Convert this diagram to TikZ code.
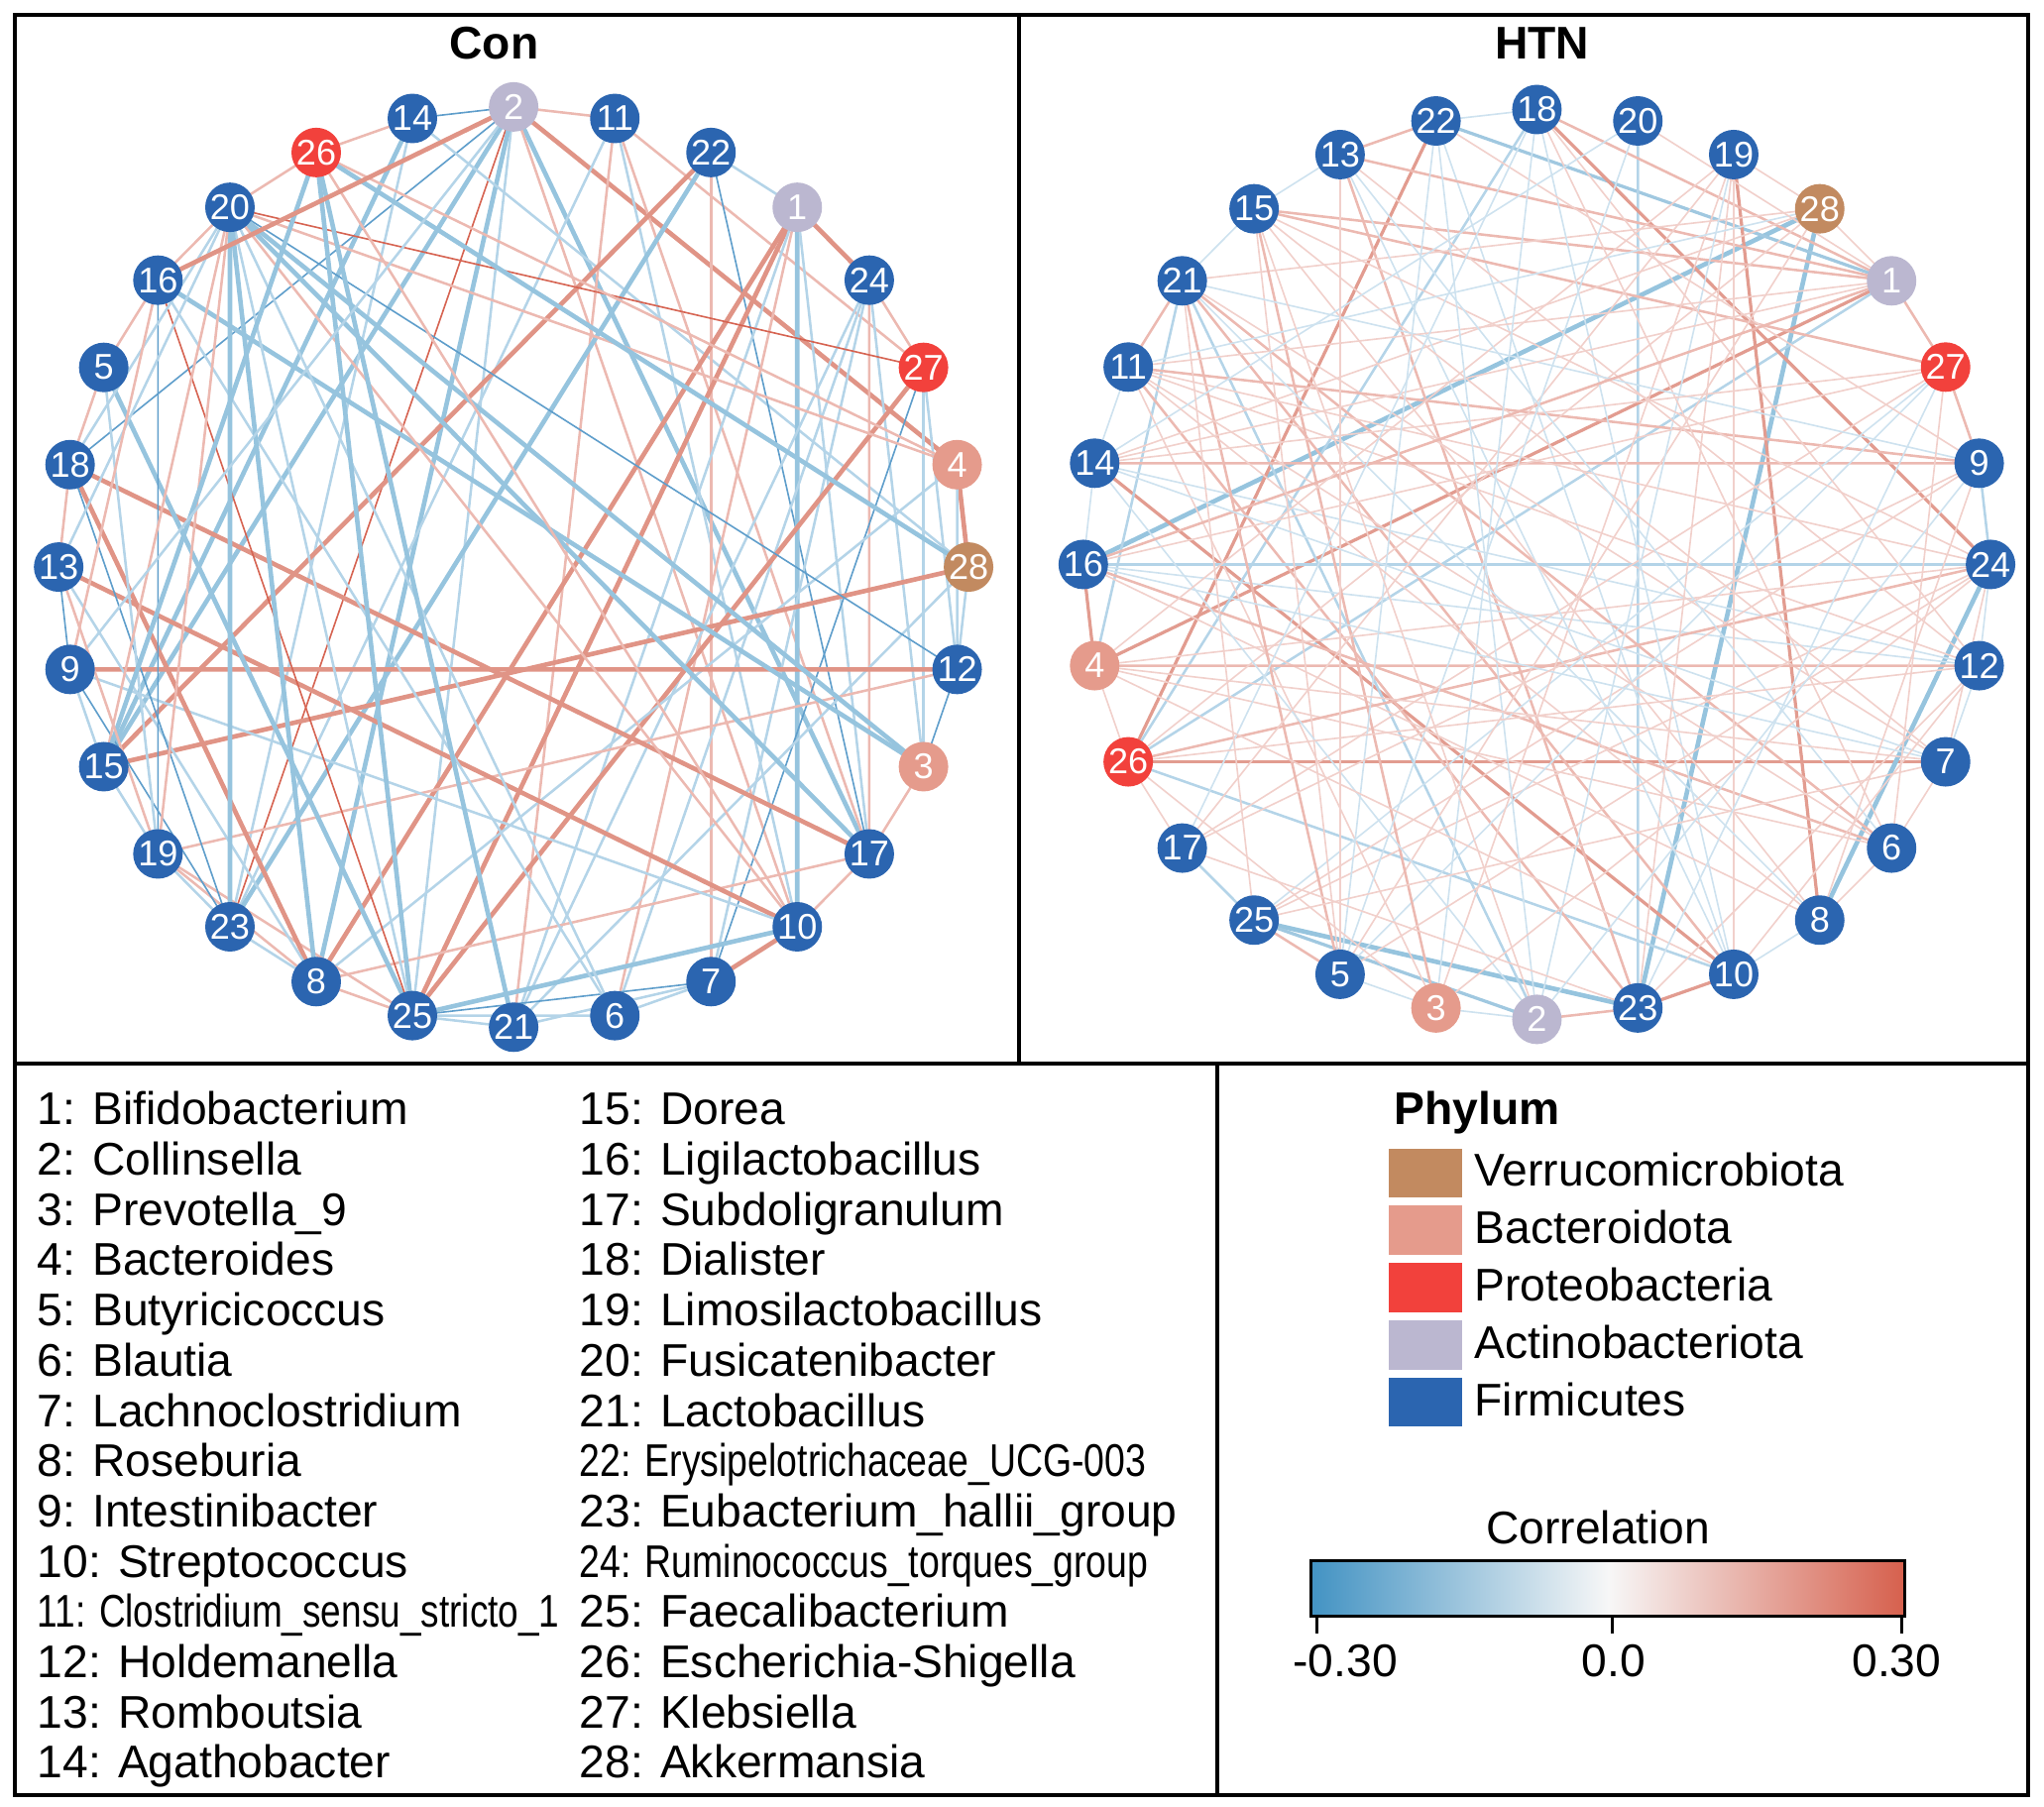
\documentclass[tikz,border=0pt]{standalone}
\usepackage{fontspec}
\setmainfont{Liberation Sans}
\usetikzlibrary{backgrounds}

\definecolor{firmi}{RGB}{43,101,176}
\definecolor{actino}{RGB}{187,183,208}
\definecolor{proteo}{RGB}{242,65,60}
\definecolor{bactero}{RGB}{229,155,140}
\definecolor{verru}{RGB}{194,138,96}
\definecolor{cbblue}{RGB}{67,147,195}
\definecolor{cbwhite}{RGB}{247,247,247}
\definecolor{cbred}{RGB}{214,96,77}

\begin{document}
\begin{tikzpicture}[x=0.1mm,y=-0.1mm,font=\fontsize{10}{12}\selectfont,
    frame/.style={line width=0.85pt},
    taxon/.style={circle,inner sep=0pt,minimum size=3.8mm,text=white,font=\fontsize{7.8}{8}\selectfont},
    heading/.style={font=\bfseries\fontsize{10}{12}\selectfont},
    pthick/.style={draw={rgb,255:red,224;green,148;blue,134},line width=1pt},
    pmed/.style={draw={rgb,255:red,226;green,156;blue,144},line width=0.7pt},
    plight/.style={draw={rgb,255:red,236;green,185;blue,177},line width=0.55pt},
    pfaint/.style={draw={rgb,255:red,241;green,208;blue,203},line width=0.35pt},
    pthin/.style={draw={rgb,255:red,214;green,100;blue,82},line width=0.35pt},
    nthick/.style={draw={rgb,255:red,150;green,196;blue,222},line width=1pt},
    nmed/.style={draw={rgb,255:red,160;green,200;blue,224},line width=0.7pt},
    nlight/.style={draw={rgb,255:red,180;green,212;blue,232},line width=0.55pt},
    nfaint/.style={draw={rgb,255:red,206;green,226;blue,239},line width=0.35pt},
    nthin/.style={draw={rgb,255:red,95;green,158;blue,203},line width=0.35pt}]

\useasboundingbox (0,0) rectangle (1568,1386);

% panel frames
\draw[frame] (11.5,11.5) rectangle (1555.5,1377);
\draw[frame] (782,11.5) -- (782,816);
\draw[frame] (11.5,816) -- (1555.5,816);
\draw[frame] (934,816) -- (934,1377);

\node[heading,anchor=base] (contitle) at (379,45.5) {Con};
\node[heading,anchor=base] (htntitle) at (1183,45.5) {HTN};

% Con network, circle layout
\foreach \n/\k/\c in {28/0/verru,4/1/bactero,27/2/proteo,24/3/firmi,1/4/actino,22/5/firmi,11/6/firmi,
    2/7/actino,14/8/firmi,26/9/proteo,20/10/firmi,16/11/firmi,5/12/firmi,18/13/firmi,13/14/firmi,
    9/15/firmi,15/16/firmi,19/17/firmi,23/18/firmi,8/19/firmi,25/20/firmi,21/21/firmi,6/22/firmi,
    7/23/firmi,10/24/firmi,17/25/firmi,3/26/bactero,12/27/firmi}
  \node[taxon,fill=\c] (c\n) at ({394+349*cos(\k*360/28)},{435-353*sin(\k*360/28)}) {\n};

% HTN network, circle layout
\foreach \n/\k/\c in {24/0/firmi,9/1/firmi,27/2/proteo,1/3/actino,28/4/verru,19/5/firmi,20/6/firmi,
    18/7/firmi,22/8/firmi,13/9/firmi,15/10/firmi,21/11/firmi,11/12/firmi,14/13/firmi,16/14/firmi,
    4/15/bactero,26/16/proteo,17/17/firmi,25/18/firmi,5/19/firmi,3/20/bactero,2/21/actino,
    23/22/firmi,10/23/firmi,8/24/firmi,6/25/firmi,7/26/firmi,12/27/firmi}
  \node[taxon,fill=\c] (h\n) at ({1179+348*cos(\k*360/28)},{433-349*sin(\k*360/28)}) {\n};

\begin{pgfonlayer}{background}
  \foreach \a/\b/\s in {2/14/nthin,2/11/plight,2/4/pthick,2/17/nthick,2/23/pthin,2/15/nthick,2/25/nlight,
      2/10/plight,2/18/nthin,2/8/nthick,14/26/plight,14/15/nthick,14/23/nlight,14/28/nlight,
      11/21/plight,11/23/nlight,11/10/nlight,11/17/plight,11/27/plight,
      22/1/nlight,22/15/pthick,22/23/nthick,22/7/plight,22/17/nthin,
      1/24/pthick,1/10/nthick,1/8/pthick,1/25/pthick,1/6/plight,1/21/nlight,1/17/nlight,
      24/27/plight,24/17/plight,24/7/nlight,24/6/nlight,24/21/nlight,24/3/nlight,
      27/20/pthin,27/25/pthick,27/3/nlight,27/12/nlight,27/7/nthin,
      4/20/plight,4/26/plight,4/28/pthick,4/8/nlight,4/12/nlight,
      28/15/pthick,28/26/nthick,28/21/nlight,28/12/nlight,
      12/9/pthick,12/19/plight,12/3/nthin,12/20/nthin,3/20/nthick,3/16/nthick,3/17/plight,
      17/18/pthick,17/8/plight,17/20/nthick,17/10/plight,
      10/13/pthick,10/7/pthick,10/25/nthick,10/9/nlight,10/20/plight,10/26/plight,
      7/25/nthin,7/21/nlight,7/6/nlight,6/25/nlight,6/16/nlight,6/20/nlight,
      21/26/nthick,21/25/nlight,25/26/nthick,25/5/nthick,25/8/plight,25/19/plight,25/20/nlight,25/16/pthin,
      8/18/pthick,8/20/nthick,8/19/plight,8/23/nlight,8/13/nlight,
      23/20/nthick,23/9/nthin,23/19/nlight,23/18/nthin,
      19/16/nthin,19/15/nlight,19/5/nlight,19/20/plight,15/9/nlight,15/20/plight,15/26/nthick,
      9/13/nthin,9/2/nlight,13/20/nlight,13/18/plight,18/5/plight,18/20/nlight,5/16/plight,
      16/20/plight,16/2/pthick,20/26/plight,13/19/plight,9/16/plight}
    \draw[\s] (c\a.center) -- (c\b.center);
  \foreach \a/\b/\s in {28/16/nthick,28/23/nthick,22/26/pmed,22/1/nmed,20/23/nlight,26/7/pmed,1/4/pmed,
      1/26/nlight,25/23/nthick,25/2/nmed,24/8/nthick,19/8/pmed,18/24/pmed,14/10/pmed,23/10/pmed,
      2/23/plight,16/4/pmed,21/4/nlight,18/22/nfaint,22/13/plight,13/15/nfaint,1/27/plight,28/1/pfaint,
      28/19/pfaint,26/17/pfaint,26/4/pfaint,26/10/nlight,25/5/plight,25/17/nlight,13/23/plight,
      21/2/nlight,18/26/nlight,22/10/nfaint,18/1/plight,27/9/plight,9/24/nlight,24/12/nfaint,
      12/7/nfaint,7/6/pfaint,6/8/pfaint,8/10/nfaint,3/2/nfaint,5/3/nfaint,11/21/plight,14/16/nfaint,
      11/14/nfaint,15/21/nfaint,15/1/plight,15/27/plight,13/1/plight,21/28/pfaint,21/6/plight,
      21/10/plight,21/7/pfaint,11/9/plight,11/12/pfaint,11/3/pfaint,11/23/plight,14/9/plight,
      14/12/nfaint,14/28/pfaint,16/24/nlight,16/12/nfaint,16/6/plight,16/8/pfaint,4/12/plight,
      4/24/pfaint,4/6/pfaint,26/24/plight,26/28/pfaint,17/27/pfaint,25/27/nfaint,25/9/pfaint,
      25/24/pfaint,5/27/nfaint,5/28/pfaint,5/15/pfaint,5/21/plight,3/15/plight,3/19/pfaint,
      2/19/nfaint,2/14/nfaint,23/19/pfaint,23/12/pfaint,10/19/pfaint,10/13/nfaint,10/18/nfaint,
      8/15/pfaint,8/21/nfaint,6/18/pfaint,6/11/pfaint,7/16/nfaint,7/15/pfaint,12/13/pfaint,
      12/18/pfaint,24/15/pfaint,24/11/pfaint,9/22/pfaint,9/21/nfaint,27/14/pfaint,27/16/pfaint,
      1/16/plight,1/14/pfaint,1/11/pfaint,28/11/nfaint,19/4/pfaint,19/17/pfaint,20/14/nfaint,
      20/5/nfaint,20/1/pfaint,18/17/nfaint,18/3/nfaint,22/5/nfaint,22/2/nfaint,13/5/pfaint,
      13/6/nfaint,15/2/pfaint,21/25/pfaint,11/8/pfaint,14/7/nfaint,4/10/pfaint,4/7/pfaint,
      26/3/pfaint,26/12/pfaint,17/23/pfaint,17/9/pfaint,25/7/pfaint,5/24/pfaint,3/24/pfaint,
      2/9/nfaint,23/27/nfaint,10/12/pfaint,8/9/pfaint,6/27/pfaint,7/24/pfaint}
    \draw[\s] (h\a.center) -- (h\b.center);
\end{pgfonlayer}

% genus key
\foreach \i/\t/\w in {1/Bifidobacterium/1,2/Collinsella/1,3/Prevotella\_9/1,4/Bacteroides/1,
    5/Butyricicoccus/1,6/Blautia/1,7/Lachnoclostridium/1,8/Roseburia/1,9/Intestinibacter/1,
    10/Streptococcus/1,11/Clostridium\_sensu\_stricto\_1/0.8,12/Holdemanella/1,13/Romboutsia/1,
    14/Agathobacter/1}
  \node[anchor=base west,inner sep=0pt] (g\i) at (28,{863+38.54*(\i-1)}) {\scalebox{\w}[1]{\i: \t}};
\foreach \i/\t/\w in {15/Dorea/1,16/Ligilactobacillus/1,17/Subdoligranulum/1,18/Dialister/1,
    19/Limosilactobacillus/1,20/Fusicatenibacter/1,21/Lactobacillus/1,
    22/Erysipelotrichaceae\_UCG-003/0.81,23/Eubacterium\_hallii\_group/1,
    24/Ruminococcus\_torques\_group/0.81,25/Faecalibacterium/1,26/Escherichia-Shigella/1,
    27/Klebsiella/1,28/Akkermansia/1}
  \node[anchor=base west,inner sep=0pt] (g\i) at (444,{863+38.54*(\i-15)}) {\scalebox{\w}[1]{\i: \t}};

% phylum key
\node[heading,anchor=base west,inner sep=0pt] (phylum) at (1069,863) {Phylum};
\foreach \k/\c/\t in {0/verru/Verrucomicrobiota,1/bactero/Bacteroidota,2/proteo/Proteobacteria,
    3/actino/Actinobacteriota,4/firmi/Firmicutes}
  {
  \fill[\c] (1065,{881+44*\k}) rectangle +(57,37.6);
  \node[anchor=base west,inner sep=0pt] (ph\k) at (1130.5,{910+44*\k}) {\t};
  }

% colour bar
\node[anchor=base,inner sep=0pt] (corr) at (1226,1184) {Correlation};
\shade[left color=cbblue,right color=cbwhite] (1006,1197) rectangle (1234,1240);
\shade[left color=cbwhite,right color=cbred] (1234,1197) rectangle (1461,1240);
\draw[line width=0.65pt] (1006,1197) rectangle (1461,1240);
\foreach \x in {1010,1237,1459}
  \draw[line width=0.65pt] (\x,1240) -- (\x,1253);
\node[anchor=base,inner sep=0pt] (lo) at (1032,1286) {-0.30};
\node[anchor=base,inner sep=0pt] (mid) at (1238,1286) {0.0};
\node[anchor=base,inner sep=0pt] (hi) at (1455,1286) {0.30};
\end{tikzpicture}
\end{document}
